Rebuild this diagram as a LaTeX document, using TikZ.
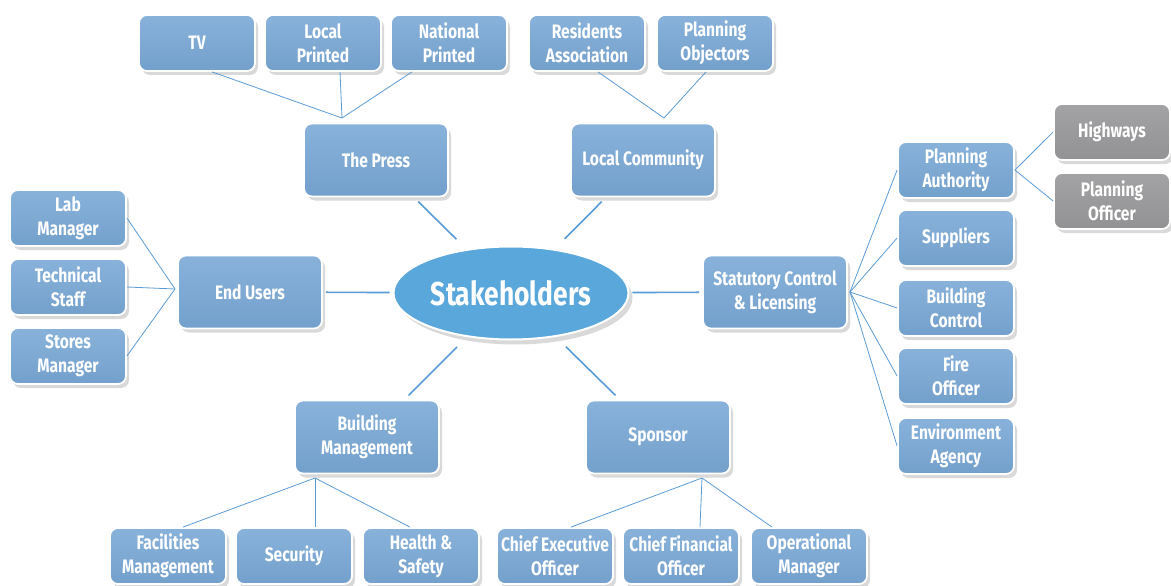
\documentclass[tikz,border=0pt]{standalone}
\usepackage{fontspec}
\setmainfont{Fira Sans}[FakeStretch=0.8]
\usetikzlibrary{shapes.geometric,shadows}
\definecolor{boxtop}{HTML}{88B2DA}
\definecolor{boxbot}{HTML}{73A0CC}
\definecolor{greytop}{HTML}{A3A3A5}
\definecolor{greybot}{HTML}{929294}
\definecolor{hubblue}{HTML}{5AA7DC}
\definecolor{lineblue}{HTML}{5B9BD5}

\begin{document}
\begin{tikzpicture}[
        x=1pt, y=-1pt,
        box/.style = {rectangle, rounded corners=8pt, draw=white, line width=1.8pt,
            top color=boxtop, bottom color=boxbot, text=white, align=center,
            font=\bfseries\fontsize{19.5}{24}\selectfont, inner sep=1pt,
            minimum width=116pt, minimum height=56pt,
            drop shadow={opacity=0.3, shadow xshift=3pt, shadow yshift=-4pt}},
        bigbox/.style = {box, minimum width=144pt, minimum height=73pt},
        greybox/.style = {box, top color=greytop, bottom color=greybot},
        link/.style = {draw=lineblue, line width=0.8pt},
        hubline/.style = {draw=lineblue, line width=1.6pt, shorten <=6pt, shorten >=14pt},
        flatline/.style = {hubline, shorten <=3pt, shorten >=3pt}
    ]
    \useasboundingbox (0,0) rectangle (1171,586);
    % centre
    \node[ellipse, draw=white, line width=2pt, fill=hubblue, text=white,
        minimum width=235pt, minimum height=93pt, inner sep=0pt,
        font=\bfseries\fontsize{33}{36}\selectfont,
        drop shadow={opacity=0.3, shadow xshift=4pt, shadow yshift=-5pt}] (hub) at (511,293) {Stakeholders};
    % first ring
    \node[bigbox] (press) at (376,160) {The Press};
    \node[bigbox] (community) at (643,160) {Local Community};
    \node[bigbox] (endusers) at (250,292) {End Users};
    \node[bigbox] (statutory) at (775,292) {Statutory Control\\\& Licensing};
    \node[bigbox] (buildmgmt) at (367,437) {Building\\Management};
    \node[bigbox] (sponsor) at (658,437) {Sponsor};
    % press
    \node[box] (tv) at (197,43) {TV};
    \node[box] (localp) at (323,43) {Local\\Printed};
    \node[box] (natp) at (449,43) {National\\Printed};
    % community
    \node[box] (residents) at (587,43) {Residents\\Association};
    \node[box] (objectors) at (715,43) {Planning\\Objectors};
    % end users
    \node[box] (labmgr) at (68,218) {Lab\\Manager};
    \node[box] (techstaff) at (68,287) {Technical\\Staff};
    \node[box] (storesmgr) at (68,356) {Stores\\Manager};
    % statutory
    \node[box] (planauth) at (956,170) {Planning\\Authority};
    \node[box] (suppliers) at (956,238) {Suppliers};
    \node[box] (buildctrl) at (956,308) {Building\\Control};
    \node[box] (fire) at (956,376) {Fire\\Officer};
    \node[box] (envagency) at (956,446) {Environment\\Agency};
    \node[greybox] (highways) at (1112,132) {Highways};
    \node[greybox] (planofficer) at (1112,201) {Planning\\Officer};
    % building management
    \node[box] (facilities) at (168,556) {Facilities\\Management};
    \node[box] (security) at (294,556) {Security};
    \node[box] (health) at (421,556) {Health \&\\Safety};
    % sponsor
    \node[box] (ceo) at (555,556) {Chief Executive\\Officer};
    \node[box] (cfo) at (681,556) {Chief Financial\\Officer};
    \node[box] (opmgr) at (809,556) {Operational\\Manager};

    % joins
    \coordinate (pressjoin) at (342,118);
    \coordinate (commjoin) at (664,118);
    \coordinate (userjoin) at (175,289);
    \coordinate (statjoin) at (850,292);
    \coordinate (bmjoin) at (315,478);
    \coordinate (sponjoin) at (702,478);

    % hub lines
    \draw[hubline] (press) -- (hub);
    \draw[hubline] (community) -- (hub);
    \draw[hubline] (buildmgmt) -- (hub);
    \draw[hubline] (sponsor) -- (hub);
    \draw[flatline] (endusers) -- (hub);
    \draw[flatline] (statutory) -- (hub);

    % branches
    \draw[link] ([xshift=15pt]tv.south) -- (pressjoin);
    \draw[link] ([xshift=17pt]localp.south) -- (pressjoin);
    \draw[link] ([xshift=-37pt]natp.south) -- (pressjoin);
    \draw[link] ([xshift=11pt]residents.south) -- (commjoin);
    \draw[link] ([xshift=-9pt]objectors.south) -- (commjoin);
    \foreach \n in {labmgr,techstaff,storesmgr}
        \draw[link] (\n.east) -- (userjoin);
    \foreach \n in {planauth,suppliers,buildctrl,fire,envagency}
        \draw[link] (statjoin) -- (\n.west);
    \draw[link] (planauth.east) -- (highways.west);
    \draw[link] (planauth.east) -- (planofficer.west);
    \draw[link] ([xshift=15pt]facilities.north) -- (bmjoin);
    \draw[link] ([xshift=21pt]security.north) -- (bmjoin);
    \draw[link] ([xshift=-11pt]health.north) -- (bmjoin);
    \draw[link] ([xshift=16pt]ceo.north) -- (sponjoin);
    \draw[link] ([xshift=19pt]cfo.north) -- (sponjoin);
    \draw[link] ([xshift=-37pt]opmgr.north) -- (sponjoin);
\end{tikzpicture}
\end{document}
